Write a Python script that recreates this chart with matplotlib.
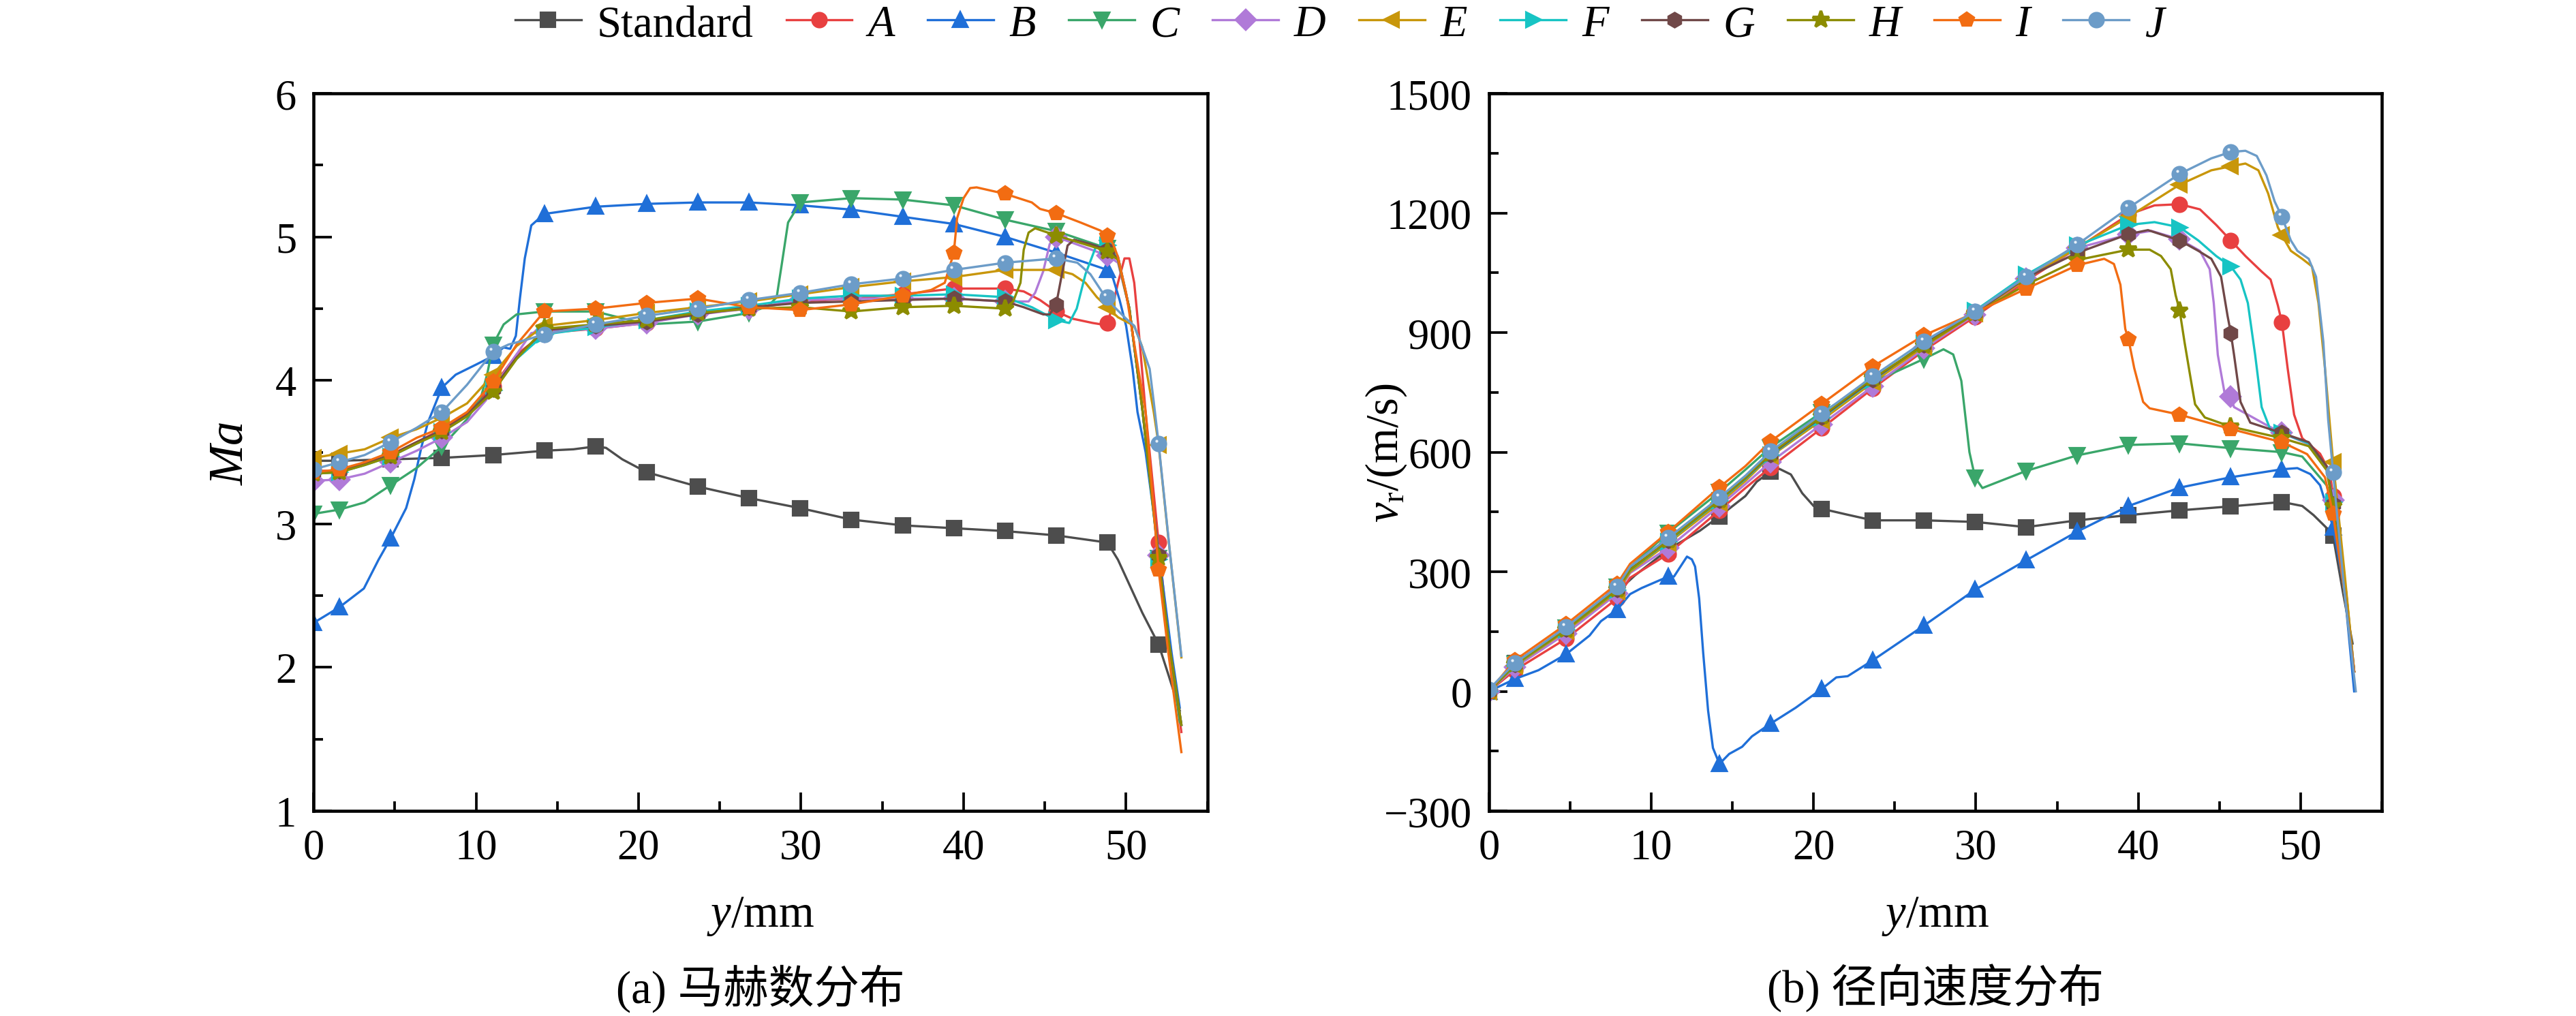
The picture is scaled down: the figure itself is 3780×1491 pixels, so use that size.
import numpy as np
import matplotlib
matplotlib.use('Agg')
import matplotlib.pyplot as plt
from matplotlib.ticker import MultipleLocator

plt.rcParams.update({
    'font.family': ['Liberation Serif', 'Noto Sans CJK SC'],
    'mathtext.fontset': 'custom',
    'mathtext.rm': 'Liberation Serif',
    'mathtext.it': 'Liberation Serif:italic',
    'xtick.direction': 'in',
    'ytick.direction': 'in',
    'axes.linewidth': 1.1,
})

# x positions where the markers sit (same for every curve)
MARK_X = [0, 1.6, 4.75, 7.9, 11.05, 14.2, 17.35, 20.5, 23.65, 26.8, 29.95,
          33.1, 36.25, 39.4, 42.55, 45.7, 48.85, 52.0]

names = ['Standard', 'A', 'B', 'C', 'D', 'E', 'F', 'G', 'H', 'I', 'J']
colors = ['#4d4d4d', '#e84040', '#1f6fd8', '#3aa66a', '#b07ad8', '#c8960a',
          '#17c4c4', '#704848', '#8c8c00', '#f26c12', '#6c9cc8']
markers = ['s', 'o', '^', 'v', 'D', '<', '>', 'h', '*', 'p', 'o']

# ---------------- (a) Mach number ----------------
ma_std_x = [0, 1.6, 4.75, 7.9, 11.05, 14.2, 16.0, 17.35, 18.0, 19.0, 20.5, 23.65, 26.8, 29.95, 33.1,
            36.25, 39.4, 42.55, 45.7, 48.85, 49.5, 51.0, 52.0, 52.6, 53.3]
ma_std = [3.44, 3.44, 3.45, 3.46, 3.48, 3.51, 3.52, 3.54, 3.53, 3.45, 3.36, 3.26, 3.18, 3.11, 3.03,
          2.99, 2.97, 2.95, 2.92, 2.87, 2.75, 2.38, 2.16, 1.95, 1.70]

ma_a_x = [0, 1.6, 3.15, 4.75, 6.35, 7.9, 9.45, 11.05, 12.5, 14.2, 17.35, 20.5, 23.65, 26.8, 29.95, 33.1,
          36.25, 39.4, 42.55, 43.7, 44.7, 45.7, 46.7, 47.95, 48.5, 48.85, 49.2, 49.5, 49.9, 50.2, 50.5,
          50.75, 51.2, 52.0, 52.6, 53.4]
ma_a = [3.37, 3.37, 3.42, 3.48, 3.57, 3.66, 3.77, 3.96, 4.18, 4.33, 4.36, 4.40, 4.47, 4.50, 4.55, 4.57,
        4.60, 4.64, 4.64, 4.62, 4.56, 4.48, 4.43, 4.40, 4.39, 4.40, 4.53, 4.68, 4.85, 4.85, 4.68,
        4.38, 3.78, 2.87, 2.20, 1.55]

ma_b_x = [0, 1.6, 3.1, 4.0, 4.75, 5.7, 6.2, 6.65, 7.05, 7.9, 8.75, 10.0, 11.05, 11.7, 12.1, 12.45, 12.7,
          13.0, 13.4, 14.2, 17.35, 20.5, 23.65, 26.8, 29.95, 33.1, 36.25, 39.4, 42.55, 45.7, 48.85,
          49.2, 49.6, 50.0, 50.4, 50.7, 51.2, 51.9, 52.8, 53.3]
ma_b = [2.31, 2.42, 2.55, 2.75, 2.90, 3.11, 3.31, 3.54, 3.71, 3.95, 4.04, 4.11, 4.17, 4.23, 4.22, 4.31, 4.57,
        4.85, 5.08, 5.16, 5.21, 5.23, 5.24, 5.24, 5.22, 5.19, 5.14, 5.09, 5.00, 4.89, 4.77,
        4.71, 4.56, 4.38, 4.08, 3.78, 3.50, 2.90, 2.10, 1.72]

ma_c_x = [0, 1.6, 3.15, 4.75, 6.35, 7.9, 9.45, 10.3, 10.7, 11.05, 11.7, 12.5, 14.2, 17.35, 20.5, 23.65,
          26.8, 28.0, 28.5, 28.8, 29.2, 29.95, 33.1, 36.25, 39.4, 42.55, 45.7, 48.85, 49.5, 50.2, 51.0,
          52.0, 52.6, 53.3]
ma_c = [3.07, 3.10, 3.15, 3.27, 3.39, 3.54, 3.73, 3.88, 4.05, 4.25, 4.39, 4.46, 4.48, 4.48, 4.39, 4.41,
        4.47, 4.52, 4.58, 4.80, 5.10, 5.24, 5.27, 5.26, 5.22, 5.12, 5.04, 4.92, 4.86, 4.50, 3.80,
        2.76, 2.20, 1.62]

ma_d_x = [0, 1.6, 3.15, 4.75, 6.35, 7.9, 9.45, 10.6, 12.0, 13.4, 14.2, 17.35, 20.5, 23.65, 26.8, 29.95,
          33.1, 36.25, 39.4, 42.55, 44.0, 44.4, 44.9, 45.3, 45.7, 48.85, 49.5, 50.2, 51.0, 52.0, 52.6, 53.4]
ma_d = [3.30, 3.31, 3.35, 3.43, 3.51, 3.60, 3.71, 3.86, 4.10, 4.33, 4.34, 4.36, 4.40, 4.46, 4.50, 4.56,
        4.57, 4.57, 4.57, 4.55, 4.55, 4.61, 4.76, 4.95, 5.00, 4.87, 4.82, 4.50, 3.80, 2.78, 2.20, 1.60]

ma_e_x = [0, 1.6, 3.15, 4.75, 6.35, 7.9, 9.45, 11.05, 12.5, 14.2, 17.35, 20.5, 23.65, 26.8, 29.95, 33.1,
          36.25, 39.4, 42.55, 45.7, 46.7, 47.5, 48.2, 48.85, 49.5, 50.0, 50.5, 51.0, 51.7, 52.0, 52.6, 53.4]
ma_e = [3.46, 3.49, 3.52, 3.60, 3.66, 3.74, 3.84, 4.04, 4.24, 4.38, 4.42, 4.47, 4.51, 4.55, 4.60, 4.65,
        4.69, 4.72, 4.77, 4.77, 4.74, 4.68, 4.58, 4.51, 4.44, 4.41, 4.38, 4.23, 3.78, 3.55, 2.90, 2.07]

ma_f_x = [0, 1.6, 3.15, 4.75, 6.35, 7.9, 9.45, 11.05, 12.5, 14.2, 17.35, 20.5, 23.65, 26.8, 29.95, 33.1,
          36.25, 39.4, 42.55, 44.2, 45.7, 46.5, 46.96, 47.5, 48.1, 48.6, 48.85, 49.5, 50.2, 51.0, 52.0,
          52.6, 53.4]
ma_f = [3.35, 3.36, 3.41, 3.47, 3.56, 3.64, 3.75, 3.93, 4.15, 4.32, 4.37, 4.42, 4.48, 4.52, 4.57, 4.59,
        4.59, 4.60, 4.58, 4.51, 4.42, 4.40, 4.50, 4.74, 4.92, 4.95, 4.94, 4.86, 4.50, 3.80, 2.75,
        2.20, 1.60]

ma_g_x = [0, 1.6, 3.15, 4.75, 6.35, 7.9, 9.45, 11.05, 12.5, 14.2, 17.35, 20.5, 23.65, 26.8, 29.95, 33.1,
          36.25, 39.4, 42.55, 43.7, 44.9, 45.3, 45.7, 46.0, 46.4, 46.8, 47.8, 48.85, 49.5, 50.2, 51.0,
          52.0, 52.6, 53.4]
ma_g = [3.36, 3.37, 3.42, 3.48, 3.57, 3.65, 3.76, 3.94, 4.16, 4.35, 4.38, 4.41, 4.46, 4.51, 4.54, 4.55,
        4.56, 4.57, 4.55, 4.51, 4.46, 4.46, 4.53, 4.71, 4.94, 4.98, 4.95, 4.91, 4.85, 4.50, 3.80,
        2.78, 2.20, 1.60]

ma_h_x = [0, 1.6, 3.15, 4.75, 6.35, 7.9, 9.45, 11.05, 12.5, 14.2, 17.35, 20.5, 23.65, 26.8, 29.95, 33.1,
          36.25, 39.4, 42.55, 43.05, 43.5, 43.7, 44.0, 44.4, 45.7, 48.85, 49.5, 50.2, 51.0, 52.0, 52.6, 53.4]
ma_h = [3.35, 3.36, 3.41, 3.47, 3.56, 3.64, 3.75, 3.92, 4.15, 4.36, 4.39, 4.42, 4.47, 4.50, 4.51, 4.48,
        4.51, 4.52, 4.50, 4.55, 4.68, 4.91, 5.03, 5.06, 5.01, 4.90, 4.84, 4.50, 3.80, 2.76, 2.20, 1.60]

ma_i_x = [0, 1.6, 3.15, 4.75, 6.35, 7.9, 9.45, 11.05, 12.5, 14.2, 17.35, 20.5, 23.65, 26.8, 29.95, 33.1,
          36.25, 38.0, 38.84, 39.4, 39.6, 40.0, 40.4, 40.8, 42.55, 44.2, 44.7, 45.7, 47.2, 48.4, 48.85,
          49.2, 49.5, 50.0, 50.75, 51.2, 52.0, 52.6, 53.4]
ma_i = [3.36, 3.38, 3.43, 3.50, 3.60, 3.67, 3.78, 3.99, 4.25, 4.48, 4.50, 4.54, 4.57, 4.51, 4.49, 4.53,
        4.59, 4.63, 4.68, 4.89, 5.13, 5.27, 5.34, 5.345, 5.30, 5.24, 5.195, 5.165, 5.10, 5.045, 5.01,
        4.95, 4.86, 4.61, 4.08, 3.78, 2.68, 2.10, 1.41]

ma_j_x = [0, 1.6, 3.15, 4.75, 6.35, 7.9, 9.45, 11.05, 12.0, 13.0, 14.2, 17.35, 20.5, 23.65, 26.8, 29.95,
          33.1, 36.25, 39.4, 42.55, 45.7, 47.0, 47.8, 48.5, 48.85, 49.2, 50.0, 50.5, 50.9, 51.45, 51.7,
          52.0, 52.7, 53.4]
ma_j = [3.38, 3.43, 3.48, 3.57, 3.67, 3.78, 3.97, 4.20, 4.25, 4.28, 4.32, 4.39, 4.45, 4.50, 4.56, 4.61,
        4.67, 4.71, 4.77, 4.82, 4.85, 4.82, 4.74, 4.62, 4.58, 4.52, 4.43, 4.38, 4.26, 4.08, 3.85,
        3.56, 2.80, 2.08]

# ---------------- (b) radial velocity ----------------
vr_std_x = [0, 1.6, 4.75, 7.9, 9.0, 11.05, 13.0, 14.2, 15.8, 16.5, 17.35, 17.9, 18.6, 19.3, 20.0, 20.5,
            22.1, 23.65, 26.8, 29.95, 33.1, 36.25, 39.4, 42.55, 45.7, 48.85, 50.1, 50.8, 51.6, 52.0,
            52.6, 53.2]
vr_std = [0, 71, 158, 250, 291, 356, 403, 439, 490, 526, 551, 558, 544, 497, 465, 458,
          443, 429, 429, 425, 412, 429, 442, 454, 464, 475, 465, 442, 410, 390, 250, 120]

vr_a_x = [0, 1.6, 4.75, 7.9, 8.7, 11.05, 14.2, 15.8, 17.35, 20.5, 23.65, 26.8, 29.95, 33.1, 36.25, 39.4,
          41.0, 42.55, 43.8, 44.8, 45.7, 46.6, 47.6, 48.15, 48.6, 48.85, 49.2, 49.6, 50.1, 51.2, 51.8,
          52.0, 52.8, 53.3]
vr_a = [0, 53, 132, 233, 285, 345, 454, 510, 562, 660, 760, 855, 940, 1030, 1112, 1196,
        1219, 1222, 1209, 1170, 1131, 1092, 1053, 1033, 968, 925, 811, 694, 635, 596, 550,
        490, 250, 50]

vr_b_x = [0, 1.6, 3.05, 4.75, 6.2, 6.9, 7.9, 8.7, 9.4, 11.05, 11.4, 11.8, 12.2, 12.5, 12.7, 12.95, 13.2,
          13.5, 13.8, 14.2, 14.8, 15.6, 16.2, 17.35, 18.9, 20.5, 21.4, 22.1, 23.65, 26.8, 29.95, 33.1,
          36.25, 39.4, 42.55, 45.7, 48.85, 49.8, 50.6, 51.2, 52.0, 52.7, 53.3]
vr_b = [0, 31, 53, 93, 140, 176, 205, 244, 259, 288, 288, 313, 338, 331, 313, 233, 96,
        -48, -142, -182, -157, -139, -113, -81, -41, 6, 35, 38, 78, 165, 255, 329,
        401, 465, 511, 537, 557, 560, 545, 517, 412, 255, 0]

vr_c_x = [0, 1.6, 4.75, 7.9, 8.7, 11.05, 14.2, 15.8, 17.35, 20.5, 23.65, 26.8, 28.0, 28.6, 29.1, 29.6,
          29.95, 30.4, 33.1, 36.25, 39.4, 42.55, 45.7, 48.85, 50.1, 51.6, 52.0, 52.8, 53.3]
vr_c = [0, 70, 160, 262, 312, 398, 500, 556, 612, 700, 775, 834, 858, 845, 779, 600,
        536, 510, 553, 592, 618, 622, 610, 600, 589, 517, 464, 250, 50]

vr_d_x = [0, 1.6, 4.75, 7.9, 8.7, 11.05, 14.2, 15.8, 17.35, 20.5, 23.65, 26.8, 29.95, 33.1, 36.25, 39.4,
          40.8, 42.55, 43.8, 44.4, 44.65, 44.9, 45.3, 45.7, 45.9, 46.75, 47.9, 48.85, 50.5, 51.6, 52.0,
          52.7, 53.3]
vr_d = [0, 60, 145, 245, 297, 360, 465, 520, 575, 670, 765, 860, 945, 1035, 1112, 1146,
        1155, 1134, 1105, 1059, 974, 844, 752, 739, 713, 694, 668, 648, 620, 560, 480,
        250, 50]

vr_e_x = [0, 1.6, 4.75, 7.9, 8.7, 11.05, 14.2, 15.8, 17.35, 20.5, 23.65, 26.8, 29.95, 33.1, 36.25, 39.4,
          42.55, 44.5, 45.7, 46.6, 47.4, 48.0, 48.6, 48.85, 49.4, 50.1, 50.7, 51.1, 51.5, 52.0, 52.7, 53.3]
vr_e = [0, 64, 152, 250, 300, 372, 472, 528, 590, 680, 775, 865, 948, 1035, 1113, 1190,
        1271, 1307, 1317, 1324, 1307, 1249, 1164, 1144, 1105, 1085, 1066, 974, 811, 576, 300, 50]

vr_f_x = [0, 1.6, 4.75, 7.9, 8.7, 11.05, 14.2, 15.8, 17.35, 20.5, 23.65, 26.8, 29.95, 33.1, 36.25, 39.4,
          41.0, 42.55, 43.7, 44.8, 45.7, 46.3, 46.75, 47.2, 47.6, 48.15, 48.85, 50.5, 51.6, 52.0, 52.7, 53.3]
vr_f = [0, 66, 155, 254, 304, 376, 478, 533, 592, 686, 780, 872, 955, 1045, 1118, 1170,
        1177, 1164, 1131, 1092, 1066, 1033, 974, 844, 713, 655, 648, 622, 562, 475, 250, 50]

vr_g_x = [0, 1.6, 4.75, 7.9, 8.7, 11.05, 14.2, 15.8, 17.35, 20.5, 23.65, 26.8, 29.95, 33.1, 36.25, 39.4,
          40.6, 42.55, 43.7, 44.5, 45.1, 45.5, 45.7, 45.9, 46.3, 46.9, 48.85, 50.5, 51.6, 52.0, 52.7, 53.3]
vr_g = [0, 68, 156, 256, 306, 378, 480, 535, 594, 688, 782, 870, 950, 1038, 1100, 1147,
        1157, 1131, 1105, 1085, 1040, 942, 899, 844, 726, 674, 648, 625, 565, 470, 250, 50]

vr_h_x = [0, 1.6, 4.75, 7.9, 8.7, 11.05, 14.2, 15.8, 17.35, 20.5, 23.65, 26.8, 29.95, 33.1, 36.25, 39.4,
          40.7, 41.4, 42.0, 42.3, 42.55, 42.85, 43.25, 43.5, 44.1, 45.7, 48.85, 50.5, 51.6, 52.0, 52.7, 53.3]
vr_h = [0, 67, 155, 255, 305, 378, 480, 536, 596, 690, 785, 868, 948, 1020, 1082, 1108,
        1108, 1092, 1059, 994, 955, 876, 779, 720, 687, 664, 635, 615, 555, 465, 250, 50]

vr_i_x = [0, 1.6, 4.75, 7.9, 8.7, 11.05, 14.2, 15.8, 17.35, 20.5, 23.65, 26.8, 29.95, 33.1, 36.25, 37.9,
          38.5, 38.9, 39.2, 39.4, 39.75, 40.3, 40.7, 42.55, 45.7, 48.85, 50.4, 51.5, 52.0, 52.7, 53.3]
vr_i = [0, 78, 168, 270, 320, 400, 512, 565, 627, 721, 815, 893, 950, 1010, 1069, 1085,
        1072, 1020, 909, 883, 811, 726, 710, 694, 658, 625, 595, 537, 445, 250, 50]

vr_j_x = [0, 1.6, 4.75, 7.9, 8.7, 11.05, 14.2, 15.8, 17.35, 20.5, 23.65, 26.8, 29.95, 33.1, 36.25, 39.4,
          42.55, 44.5, 45.7, 46.6, 47.3, 47.9, 48.4, 48.85, 49.4, 49.8, 50.5, 50.95, 51.4, 51.7, 52.0,
          52.7, 53.4]
vr_j = [5, 71, 161, 262, 313, 385, 486, 541, 602, 696, 790, 878, 953, 1040, 1121, 1213,
        1298, 1337, 1353, 1356, 1343, 1294, 1229, 1190, 1131, 1105, 1085, 1040, 877, 681, 550,
        250, 0]

ma_series = [(ma_std_x, ma_std), (ma_a_x, ma_a), (ma_b_x, ma_b), (ma_c_x, ma_c), (ma_d_x, ma_d),
             (ma_e_x, ma_e), (ma_f_x, ma_f), (ma_g_x, ma_g), (ma_h_x, ma_h), (ma_i_x, ma_i),
             (ma_j_x, ma_j)]
vr_series = [(vr_std_x, vr_std), (vr_a_x, vr_a), (vr_b_x, vr_b), (vr_c_x, vr_c), (vr_d_x, vr_d),
             (vr_e_x, vr_e), (vr_f_x, vr_f), (vr_g_x, vr_g), (vr_h_x, vr_h), (vr_i_x, vr_i),
             (vr_j_x, vr_j)]


def draw(ax, series, dy):
    handles = []
    for k, (x, y) in enumerate(series):
        x = np.asarray(x, dtype=float)
        y = np.asarray(y, dtype=float)
        idx = [i for i, v in enumerate(x) if np.isclose(v, MARK_X).any()]
        ms = 6.2 if markers[k] == '*' else 4.8
        h, = ax.plot(x, y, color=colors[k], lw=0.8, marker=markers[k], ms=ms,
                     mec=colors[k], mfc=colors[k], markevery=idx, label=names[k])
        if k == len(series) - 1:  # small highlight on the J markers
            ax.plot(x[idx] - 0.15, y[idx] + dy, ls='none', marker='o',
                    ms=1.0, color='#e8f0f8', mec='none')
        handles.append(h)
    return handles


def style_axes(ax):
    ax.tick_params(which='major', length=6.5, width=0.9, labelsize=15, top=False, right=False, pad=6)
    ax.tick_params(which='minor', length=3.3, width=0.9, top=False, right=False)
    ax.xaxis.set_major_locator(MultipleLocator(10))
    ax.xaxis.set_minor_locator(MultipleLocator(5))
    ax.set_xlim(0, 55)
    ax.set_xlabel('$y$/mm', fontsize=16)
    ax.xaxis.set_label_coords(0.5, -0.146)
    ax.xaxis.label.set_verticalalignment('center')


fig = plt.figure(figsize=(12.6, 4.9733), dpi=300)
ax1 = fig.add_axes([0.1217, 0.2017, 0.347, 0.7058])
ax2 = fig.add_axes([0.578, 0.2017, 0.3466, 0.7058])

handles = draw(ax1, ma_series, 0.02)
draw(ax2, vr_series, 7)

style_axes(ax1)
ax1.set_ylim(1, 6)
ax1.yaxis.set_major_locator(MultipleLocator(1))
ax1.yaxis.set_minor_locator(MultipleLocator(0.5))
ax1.set_ylabel('Ma', fontsize=17, style='italic')
ax1.yaxis.set_label_coords(-0.068, 0.5)

style_axes(ax2)
ax2.set_ylim(-300, 1500)
ax2.yaxis.set_major_locator(MultipleLocator(300))
ax2.yaxis.set_minor_locator(MultipleLocator(150))
ax2.set_yticklabels([f'{int(v)}'.replace('-', '\u2212') for v in ax2.get_yticks()])
ax2.set_ylabel('$v_{\\mathrm{r}}$/(m/s)', fontsize=16)
ax2.yaxis.set_label_coords(-0.09, 0.5)

cjk = ['Liberation Serif', 'Noto Sans CJK SC']
fig.text(0.1217 + 0.347 / 2, 0.028, '(a) 马赫数分布', ha='center', va='center', fontsize=16, family=cjk)
fig.text(0.578 + 0.3466 / 2, 0.028, '(b) 径向速度分布', ha='center', va='center', fontsize=16, family=cjk)

leg = fig.legend(handles, names, loc='center', bbox_to_anchor=(0.52, 0.975), ncol=11, frameon=False,
                 fontsize=15.5, handlelength=1.5, handletextpad=0.35, columnspacing=0.75,
                 borderaxespad=0)
for t in leg.get_texts()[1:]:
    t.set_fontstyle('italic')

fig.savefig('out.png', dpi=300)
